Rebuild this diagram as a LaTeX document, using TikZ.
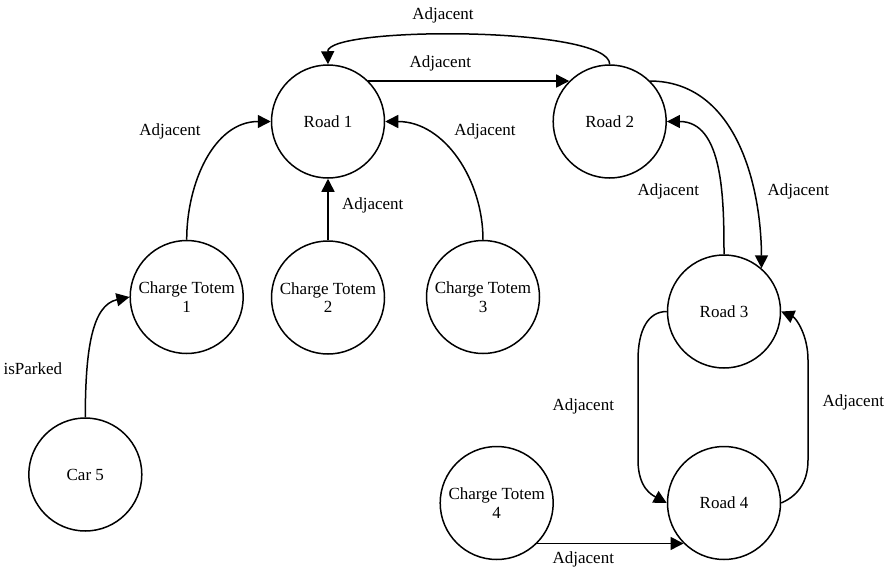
\documentclass[tikz,border=0pt]{standalone}
\usepackage{fontspec}
\setmainfont{Liberation Serif}
\usetikzlibrary{arrows.meta}
\begin{document}
\begin{tikzpicture}[x=1pt,y=-1pt,
  state/.style={circle,draw,line width=1.5pt,minimum size=113pt,inner sep=0pt,
    align=center,font=\fontsize{17}{18.5}\selectfont},
  link/.style={line width=1.5pt,-{Triangle[length=13pt,width=13pt]}},
  lbl/.style={inner sep=0pt,font=\fontsize{17}{20}\selectfont}]
\useasboundingbox (0,0) rectangle (889,570);

% places
\node[state] (r1)   at (328,121.5)   {Road 1};
\node[state] (r2)   at (609.7,121.5) {Road 2};
\node[state] (r3)   at (724,311.5)   {Road 3};
\node[state] (r4)   at (724,503)     {Road 4};
\node[state] (ct1)  at (186.7,297)   {Charge Totem\\1};
\node[state] (ct2)  at (328,297.5)   {Charge Totem\\2};
\node[state] (ct3)  at (483,297)     {Charge Totem\\3};
\node[state] (ct4)  at (496.7,503)   {Charge Totem\\4};
\node[state] (car5) at (85.3,474.5)  {Car 5};

% relations
\draw[link] (r2.north) .. controls (610,26) and (327,26) .. (r1.north);
\draw[link] (r1.45) -- (r2.135);
\draw[link] (ct1.north) .. controls (186.7,183) and (214,121.5) .. (r1.west);
\draw[link] (ct2.north) -- (r1.south);
\draw[link] (ct3.north) .. controls (483,180) and (444.5,121.5) .. (r1.east);
\draw[link] (r2.45) .. controls (735,81.5) and (761,183) .. (r3.49);
\draw[link] (r3.north) .. controls (724,198) and (723,121.5) .. (r2.east);
\draw[link] (r3.west) .. controls (648,311.5) and (638,330) .. (638,360)
  -- (638,460) .. controls (638,488) and (652,495) .. (r4.west);
\draw[link] (r4.east) .. controls (795,497) and (808,485) .. (808,460)
  -- (808,360) .. controls (808,335) and (796,318) .. (r3.east);
\draw[link] (ct4.-45) -- (r4.-135);
\draw[link] (car5.north) .. controls (85.3,350) and (92,305) .. (ct1.west);

% relation names
\node[lbl] (l1)  at (443,15.5)    {Adjacent};
\node[lbl] (l2)  at (440.3,63.3)  {Adjacent};
\node[lbl] (l3)  at (170,131)     {Adjacent};
\node[lbl] (l4)  at (485,131)     {Adjacent};
\node[lbl] (l5)  at (372.7,205)   {Adjacent};
\node[lbl] (l6)  at (668.3,191.7) {Adjacent};
\node[lbl] (l7)  at (798.3,191.7) {Adjacent};
\node[lbl] (l8)  at (583.3,406.7) {Adjacent};
\node[lbl] (l9)  at (853.3,402.7) {Adjacent};
\node[lbl] (l10) at (583.3,559.3) {Adjacent};
\node[lbl] (l11) at (32.8,368.3)  {isParked};
\end{tikzpicture}
\end{document}
